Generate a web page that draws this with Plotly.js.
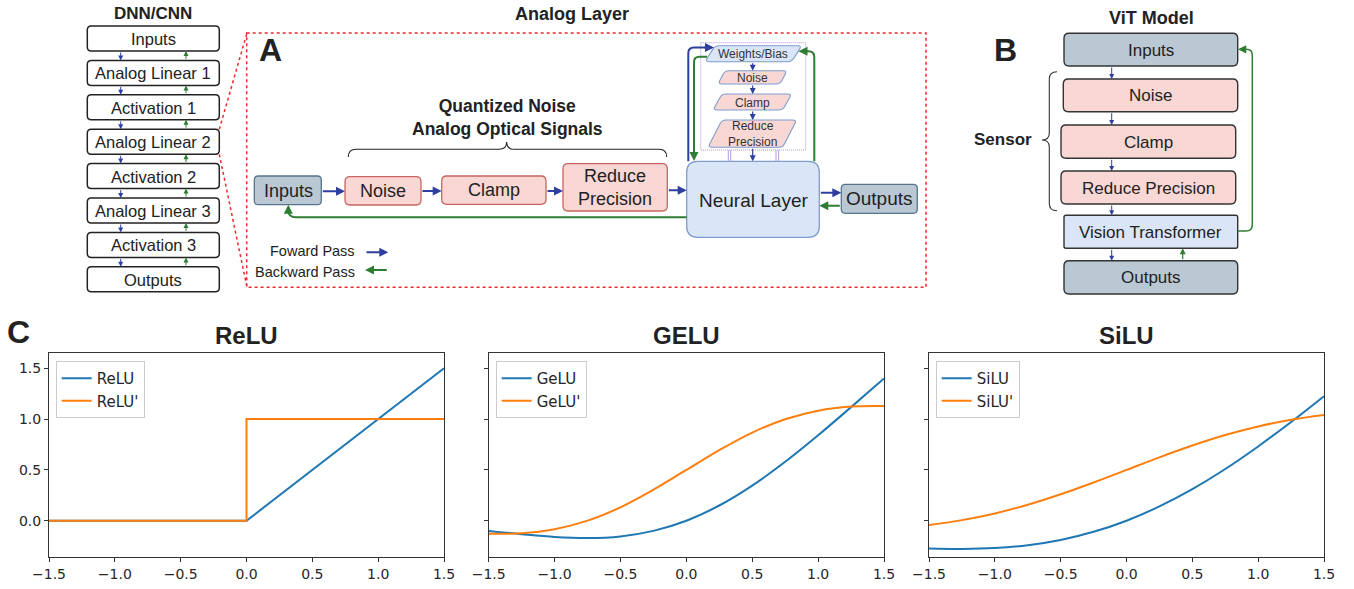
<!DOCTYPE html>
<html><head><meta charset="utf-8">
<script src="https://cdn.plot.ly/plotly-3.0.1.min.js"></script>
<style>body{margin:0;background:#fff}#chart{width:1354px;height:589px}</style>
</head><body><div id="chart"></div>
<script>
// ---------------- data ----------------
const xGrid   = [-1.5,-1.25,-1,-0.75,-0.5,-0.25,0,0.25,0.5,0.75,1,1.25,1.5];
const reluX   = [-1.5,0,1.5];
const reluY   = [0,0,1.5];
const reluDX  = [-1.5,0,0,1.5];
const reluDY  = [0,0,1,1];
const geluY   = [-0.100,-0.132,-0.159,-0.170,-0.154,-0.100,0,0.150,0.346,0.580,0.841,1.118,1.400];
const geluDY  = [-0.128,-0.123,-0.083,0.001,0.132,0.305,0.500,0.695,0.868,0.999,1.083,1.123,1.128];
const siluY   = [-0.274,-0.278,-0.269,-0.241,-0.189,-0.109,0,0.141,0.311,0.509,0.731,0.972,1.226];
const siluDY  = [-0.041,0.006,0.072,0.157,0.260,0.376,0.500,0.624,0.740,0.843,0.928,0.994,1.041];
const xTicks    = [-1.5,-1,-0.5,0,0.5,1,1.5];
const xTickText = ['\u22121.5','\u22121.0','\u22120.5','0.0','0.5','1.0','1.5'];
const yTicks    = [0,0.5,1,1.5];
const yTickText = ['0.0','0.5','1.0','1.5'];
const panelTitles = ['ReLU','GELU','SiLU'];
const seriesNames = [['ReLU',"ReLU'"],['GeLU',"GeLU'"],['SiLU',"SiLU'"]];
const dnnLabels = ['Inputs','Analog Linear 1','Activation 1','Analog Linear 2','Activation 2','Analog Linear 3','Activation 3','Outputs'];
const pipeLabels = ['Noise','Clamp','Reduce<br>Precision'];
const wLabels = ['Weights/Bias','Noise','Clamp','Reduce<br>Precision'];
const vitLabels = ['Inputs','Noise','Clamp','Reduce Precision','Vision Transformer','Outputs'];

// ---------------- helpers ----------------
const W = 1354, H = 589;
const BLUE = '#2f3f9f', GREEN = '#2e7d32', RED = '#ec2b2b';
const FONT = 'Liberation Sans, Arial, sans-serif';
const MPLFONT = 'DejaVu Sans';
const shapes = [], annotations = [];
function rpoly(pts, r){
  const n = pts.length; let d = '';
  for(let i=0;i<n;i++){
    const p0=pts[(i-1+n)%n], p1=pts[i], p2=pts[(i+1)%n];
    const l1=Math.hypot(p0[0]-p1[0],p0[1]-p1[1]), l2=Math.hypot(p2[0]-p1[0],p2[1]-p1[1]);
    const rr=Math.min(r,l1/2,l2/2);
    const a=[p1[0]+(p0[0]-p1[0])*rr/l1, p1[1]+(p0[1]-p1[1])*rr/l1];
    const b=[p1[0]+(p2[0]-p1[0])*rr/l2, p1[1]+(p2[1]-p1[1])*rr/l2];
    d += (i===0?'M':'L')+a[0].toFixed(2)+','+a[1].toFixed(2)+' Q'+p1[0]+','+p1[1]+' '+b[0].toFixed(2)+','+b[1].toFixed(2)+' ';
  }
  return d+'Z';
}
function rrect(x0,y0,x1,y1,r){ return rpoly([[x0,y0],[x1,y0],[x1,y1],[x0,y1]], r); }
function shp(path, fill, color, width, dash){
  shapes.push({type:'path', path:path, xref:'x4', yref:'y4', fillcolor: fill||'rgba(0,0,0,0)',
    line:{color:color, width:width, dash:dash||'solid'}});
}
function seg(x0,y0,x1,y1,color,width,dash){
  shapes.push({type:'line', x0:x0,y0:y0,x1:x1,y1:y1, xref:'x4', yref:'y4', line:{color:color,width:width,dash:dash||'solid'}});
}
function txt(x,y,t,size,opts){
  annotations.push(Object.assign({xref:'x4',yref:'y4',x:x,y:y,text:t,showarrow:false,
    font:{family:FONT,size:size,color:'#222'},xanchor:'center',yanchor:'middle'}, opts||{}));
}
function arr(x0,y0,x1,y1,color,w,size){
  annotations.push({xref:'x4',yref:'y4',axref:'x4',ayref:'y4',x:x1,y:y1,ax:x0,ay:y0,text:'',
    showarrow:true,arrowhead:2,arrowsize:size,arrowwidth:w,arrowcolor:color,standoff:0,startstandoff:0});
}

// ---------------- DNN/CNN column ----------------
txt(153.3,13,'<b>DNN/CNN</b>',17);
dnnLabels.forEach((lab,i)=>{
  const y0 = 26 + i*34.4, y1 = y0 + 25;
  shp(rrect(87.3,y0,219.3,y1,4),'#ffffff','#222',1.5);
  txt(153.3,(y0+y1)/2+0.5,lab,16.5);
  if(i<dnnLabels.length-1){
    arr(120.7,y1,120.7,y0+34.4,BLUE,1,1);
    arr(186,y0+34.4,186,y1,GREEN,1,1);
  }
});

// ---------------- Analog layer (A) ----------------
seg(219.3,129.3,247,33,RED,1.5,'dot');
seg(219.3,154.3,247,287.3,RED,1.5,'dot');
shp('M246.7,33 L926,33 L926,287.3 L246.7,287.3 Z',null,RED,1.5,'dot');
txt(572,14,'<b>Analog Layer</b>',18);
txt(270,50,'<b>A</b>',32);
txt(507,117,'<b>Quantized Noise<br>Analog Optical Signals</b>',17.5);
shp('M348.3,157 Q348.3,149.3 356,149.3 L499,149.3 Q506.7,149.3 506.7,142 Q506.7,149.3 514.4,149.3 L659,149.3 Q666.7,149.3 666.7,157',null,'#222',1.1);

shp(rrect(254.3,176,321.3,204.7,4),'#bac8d3','#56768f',1.3);
txt(288,190.5,'Inputs',18);
const pipeBoxes = [[345,176.7,421,205],[441.7,176,546,204.3],[563,163.7,667.3,211]];
pipeBoxes.forEach((b,i)=>{
  shp(rrect(b[0],b[1],b[2],b[3],5),'#f8d7d5','#c8655f',1.3);
  txt((b[0]+b[2])/2,(b[1]+b[3])/2,pipeLabels[i],18);
});
arr(321.3,191.3,345,191.3,BLUE,2,0.9);
arr(421,191,441.7,191,BLUE,2,0.9);
arr(546,191,563,191,BLUE,2,0.9);
arr(667.3,190.3,686.7,190.3,BLUE,2,0.9);

// neural layer
shp(rrect(686.7,161.3,819.3,237.3,11),'#dae6f7','#7e9dcd',1.3);
txt(753,200,'Neural Layer',19);
shp(rrect(841.3,184.3,917.3,213.3,4),'#bac8d3','#56768f',1.3);
txt(879.3,198.5,'Outputs',19);
arr(819.3,192.7,841.3,192.7,BLUE,2,0.9);
arr(841.3,205.7,819.3,205.7,GREEN,2,0.9);
// backward path to inputs
shp('M686.7,217.3 L296,217.3 Q288.3,217.3 288.3,210',null,GREEN,2);
arr(288.3,213,288.3,204.7,GREEN,2,0.9);

// weights column
shp('M700.7,42.7 L805.7,42.7 L805.7,150 L700.7,150 Z',null,'#ad97da',1,'1px,1px');
const paras = [
  [[715,45.7],[801.7,45.7],[791.7,61.7],[705,61.7]],
  [[725,70.7],[787,70.7],[780,84],[718,84]],
  [[722,94],[791.7,94],[782.7,110],[713,110]],
  [[722,120],[796.7,120],[782.7,147.3],[708,147.3]]
];
const paraFill = ['#dae6f7','#f8d7d5','#f8d7d5','#f8d7d5'];
paras.forEach((p,i)=>{
  shp(rpoly(p,4),paraFill[i],'#7e9dcd',1.1);
  txt(752.7,(p[0][1]+p[2][1])/2+0.5,wLabels[i],12,{font:{family:FONT,size:12,color:'#333'}});
});
arr(752.7,61.7,752.7,70.7,BLUE,1.2,1);
arr(752.7,84,752.7,94,BLUE,1.2,1);
arr(752.7,110,752.7,120,BLUE,1.2,1);
arr(752.7,147.3,752.7,161.3,BLUE,1.2,1);
[728.3,730.7,776,778.7].forEach(x=>seg(x,150,x,161.3,'#b49be0',1));
shp('M688.3,161.3 L688.3,53 Q688.3,47.5 694,47.5 L706,47.5',null,BLUE,2);
arr(703,47.5,714,47.5,BLUE,2,0.9);
shp('M707,56.7 L699.5,56.7 Q694,56.7 694,62 L694,152',null,GREEN,2);
arr(694,150,694,161,GREEN,2,0.9);
shp('M814.3,161.3 L814.3,57 Q814.3,51.3 808.5,51.3 L806,51.3',null,GREEN,2);
arr(809,51.3,798.5,51.3,GREEN,2,0.9);

// pass legend
txt(357.3,250.7,'Foward Pass',14.5,{xanchor:'right'});
txt(357.3,271.7,'Backward Pass',14.5,{xanchor:'right'});
arr(365,252.3,388.3,252.3,BLUE,2,0.9);
arr(388.3,270,365,270,GREEN,2,0.9);

// ---------------- ViT model (B) ----------------
txt(1151,18,'<b>ViT Model</b>',18);
txt(1005,50,'<b>B</b>',32);
txt(1003,139.3,'<b>Sensor</b>',17);
shp('M1057,71.7 Q1049.3,71.7 1049.3,79 L1049.3,133 Q1049.3,140 1042,140 Q1049.3,140 1049.3,147 L1049.3,203.4 Q1049.3,210.7 1057,210.7',null,'#333',1.1);
const vitBoxes = [
  [1064,33.3,1237.7,66,'#bac8d3',5],
  [1063.3,79,1237.7,111.7,'#f8d7d5',5],
  [1061,125,1235.7,158.3,'#f8d7d5',5],
  [1061,171,1235.7,204,'#f8d7d5',5],
  [1064,215.3,1237.7,248.3,'#dae6f7',2],
  [1064,260.7,1237.7,294,'#bac8d3',5]
];
vitBoxes.forEach((b,i)=>{
  shp(rrect(b[0],b[1],b[2],b[3],b[5]),b[4],'#333',1.4);
  txt((b[0]+b[2])/2,(b[1]+b[3])/2+0.5,vitLabels[i],17);
  if(i<vitBoxes.length-1) arr(1111.7,b[3],1111.7,vitBoxes[i+1][1],BLUE,1,1);
});
arr(1182.7,260.7,1182.7,248.3,GREEN,1.2,1);
shp('M1237.7,231 L1246,231 Q1252.3,231 1252.3,225 L1252.3,55 Q1252.3,49.3 1246,49.3 L1244,49.3',null,GREEN,1.5);
arr(1247,49.3,1238,49.3,GREEN,1.5,1.1);

// ---------------- C panel ----------------
txt(18,332,'<b>C</b>',32);
const centers = [246.5,686.3,1126.5];
panelTitles.forEach((t,i)=>txt(centers[i],335,'<b>'+t+'</b>',24));

// ---------------- traces ----------------
const C1='#1f77b4', C2='#ff7f0e';
const traces = [
  {x:reluX,y:reluY,name:seriesNames[0][0],mode:'lines',line:{color:C1,width:2},xaxis:'x',yaxis:'y',legend:'legend'},
  {x:reluDX,y:reluDY,name:seriesNames[0][1],mode:'lines',line:{color:C2,width:2},xaxis:'x',yaxis:'y',legend:'legend'},
  {x:xGrid,y:geluY,name:seriesNames[1][0],mode:'lines',line:{color:C1,width:2,shape:'spline'},xaxis:'x2',yaxis:'y2',legend:'legend2'},
  {x:xGrid,y:geluDY,name:seriesNames[1][1],mode:'lines',line:{color:C2,width:2,shape:'spline'},xaxis:'x2',yaxis:'y2',legend:'legend2'},
  {x:xGrid,y:siluY,name:seriesNames[2][0],mode:'lines',line:{color:C1,width:2,shape:'spline'},xaxis:'x3',yaxis:'y3',legend:'legend3'},
  {x:xGrid,y:siluDY,name:seriesNames[2][1],mode:'lines',line:{color:C2,width:2,shape:'spline'},xaxis:'x3',yaxis:'y3',legend:'legend3'},
  {x:[0],y:[0],mode:'markers',marker:{opacity:0},xaxis:'x4',yaxis:'y4',showlegend:false,hoverinfo:'skip'}
];

function tf(){ return {family:MPLFONT, size:14, color:'#262626'}; }
function xa(dom, anchor){ return {domain:dom, anchor:anchor, range:[-1.5,1.5], tickmode:'array', tickvals:xTicks, ticktext:xTickText,
  ticks:'outside', ticklen:4, tickwidth:1, tickcolor:'#333', showline:true, mirror:true, linecolor:'#333', linewidth:1,
  showgrid:false, zeroline:false, tickfont:tf(), fixedrange:true}; }
function ya(anchor, labels){ return {domain:[0.0538,0.4002], anchor:anchor, range:[-0.36,1.648], tickmode:'array', tickvals:yTicks, ticktext:yTickText,
  showticklabels:labels, ticks:'outside', ticklen:4, tickwidth:1, tickcolor:'#333', showline:true, mirror:true, linecolor:'#333', linewidth:1,
  showgrid:false, zeroline:false, tickfont:tf(), fixedrange:true}; }
function lg(xpx){ return {x:xpx/W, y:1-361/H, xanchor:'left', yanchor:'top', bgcolor:'rgba(255,255,255,0.85)', bordercolor:'#cccccc', borderwidth:1,
  font:{family:MPLFONT, size:15, color:'#262626'}, itemwidth:30}; }

const layout = {
  width:W, height:H, margin:{l:0,r:0,t:0,b:0}, paper_bgcolor:'#ffffff', plot_bgcolor:'rgba(0,0,0,0)',
  font:{family:MPLFONT, size:14, color:'#262626'},
  showlegend:true,
  xaxis: xa([49/W,444/W],'y'), yaxis: ya('x',true),
  xaxis2: xa([488.7/W,884/W],'y2'), yaxis2: ya('x2',false),
  xaxis3: xa([929/W,1324/W],'y3'), yaxis3: ya('x3',false),
  xaxis4: {domain:[0,1], range:[0,W], visible:false, anchor:'y4', fixedrange:true},
  yaxis4: {domain:[0,1], range:[H,0], visible:false, anchor:'x4', fixedrange:true},
  legend: lg(55.7), legend2: lg(495.7), legend3: lg(935.7),
  shapes: shapes, annotations: annotations
};
Plotly.newPlot('chart', traces, layout, {staticPlot:true, displayModeBar:false});
</script>
</body></html>
